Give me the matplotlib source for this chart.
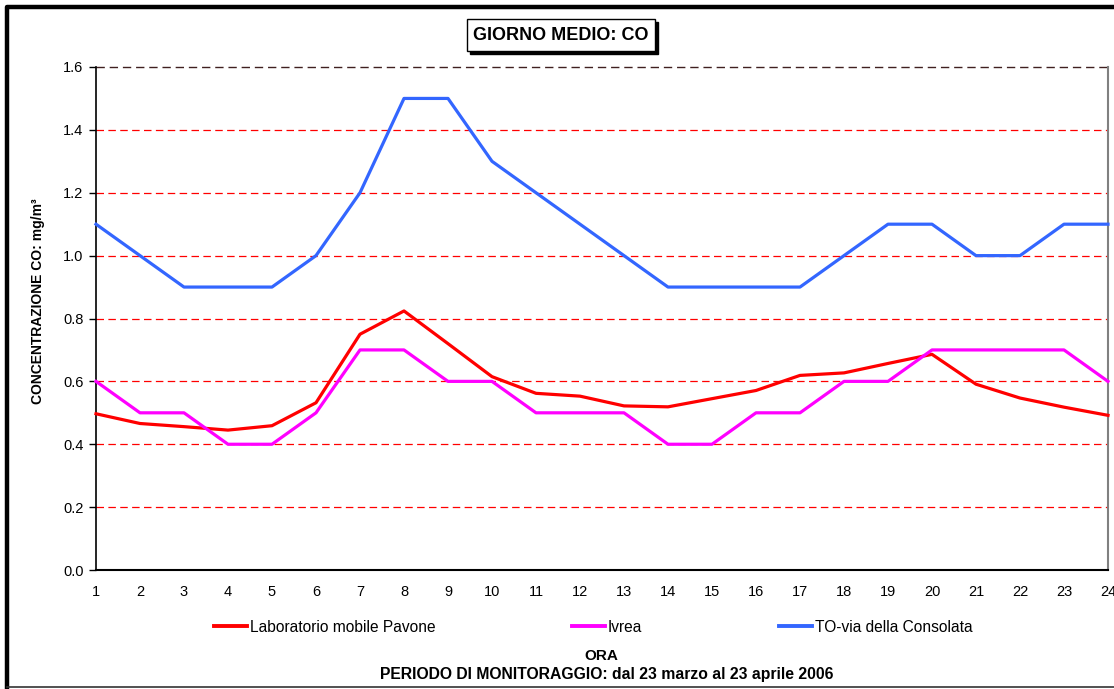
import matplotlib.pyplot as plt
from matplotlib.patches import Rectangle
from matplotlib.lines import Line2D

hours = list(range(1, 25))
pavone = [0.497, 0.466, 0.456, 0.445, 0.459, 0.532, 0.750, 0.824, 0.720, 0.615,
          0.562, 0.553, 0.522, 0.519, 0.545, 0.571, 0.619, 0.627, 0.657, 0.686,
          0.591, 0.547, 0.518, 0.492]
ivrea = [0.6, 0.5, 0.5, 0.4, 0.4, 0.5, 0.7, 0.7, 0.6, 0.6, 0.5, 0.5,
         0.5, 0.4, 0.4, 0.5, 0.5, 0.6, 0.6, 0.7, 0.7, 0.7, 0.7, 0.6]
consolata = [1.1, 1.0, 0.9, 0.9, 0.9, 1.0, 1.2, 1.5, 1.5, 1.3, 1.2, 1.1,
             1.0, 0.9, 0.9, 0.9, 0.9, 1.0, 1.1, 1.1, 1.0, 1.0, 1.1, 1.1]
labels = ["Laboratorio mobile Pavone", "Ivrea", "TO-via della Consolata"]
colors = ["#FF0000", "#FF00FF", "#3366FF"]
yticks = [0.0, 0.2, 0.4, 0.6, 0.8, 1.0, 1.2, 1.4, 1.6]

plt.rcParams['font.family'] = ['Liberation Sans', 'DejaVu Sans']

W, H = 1114, 689
fig = plt.figure(figsize=(W / 100, H / 100), dpi=100)
ax = fig.add_axes([96 / W, 1 - 570 / H, (1108 - 96) / W, (570 - 67) / H])

# figure frame: thick left/top, thin bottom
fig.lines.append(Line2D([7 / W, 7 / W, 1.0], [1 - 687 / H, 1 - 7 / H, 1 - 7 / H],
                        transform=fig.transFigure, color='black', linewidth=3.2))
fig.lines.append(Line2D([7 / W, 1.0], [1 - 687 / H, 1 - 687 / H],
                        transform=fig.transFigure, color='#333333', linewidth=1.2))

for y in yticks[1:-1]:
    ax.axhline(y, color='#FF0000', linestyle=(0, (6, 3.5)), linewidth=0.9, zorder=1)
ax.axhline(1.6, color='#402020', linestyle=(0, (6, 3.5)), linewidth=1.0, zorder=1, clip_on=False)

for series, lab, col in zip([pavone, ivrea, consolata], labels, colors):
    ax.plot(hours, series, color=col, linewidth=2.3, label=lab, zorder=3, clip_on=False)

ax.set_xlim(1, 24)
ax.set_ylim(0, 1.6)
ax.set_yticks(yticks)
ax.set_yticklabels([f"{v:.1f}" for v in yticks])
ax.set_xticks(hours)
ax.tick_params(axis='y', direction='out', length=5, width=1, labelsize=10.5, pad=4)
ax.tick_params(axis='x', length=0, labelsize=10.5, pad=11)

ax.spines['top'].set_visible(False)
ax.spines['right'].set_color('#808080')
ax.spines['right'].set_linewidth(1.5)
ax.spines['left'].set_linewidth(1.2)
ax.spines['bottom'].set_linewidth(1.5)

fig.text(38 / W, 1 - 301 / H, "CONCENTRAZIONE CO: mg/m³", rotation=90, ha='center',
         va='center', fontsize=10, fontweight='bold')

# title with shadow box
fig.patches.append(Rectangle((470 / W, 1 - 54 / H), 188 / W, 32 / H, transform=fig.transFigure,
                             facecolor='black', edgecolor='black', zorder=0))
fig.patches.append(Rectangle((467 / W, 1 - 51 / H), 188 / W, 32 / H, transform=fig.transFigure,
                             facecolor='white', edgecolor='black', linewidth=1, zorder=1))
fig.text(561 / W, 1 - 36 / H, "GIORNO MEDIO: CO", ha='center', va='center',
         fontsize=13, fontweight='bold', zorder=5)

handles = [Line2D([], [], color=c, linewidth=2.8) for c in colors]
fig.legend(handles, labels, loc='center left', bbox_to_anchor=(214 / W, 1 - 627 / H),
           ncol=3, frameon=False, fontsize=11.2, handlelength=2.1, handletextpad=0.2,
           columnspacing=8.8, borderaxespad=0, borderpad=0)

fig.text(601 / W, 1 - 656 / H, "ORA", ha='center', va='center', fontsize=11, fontweight='bold')
fig.text(607 / W, 1 - 675 / H, "PERIODO DI MONITORAGGIO: dal 23 marzo al 23 aprile 2006",
         ha='center', va='center', fontsize=11.3, fontweight='bold')

fig.savefig("out.png", dpi=100)
